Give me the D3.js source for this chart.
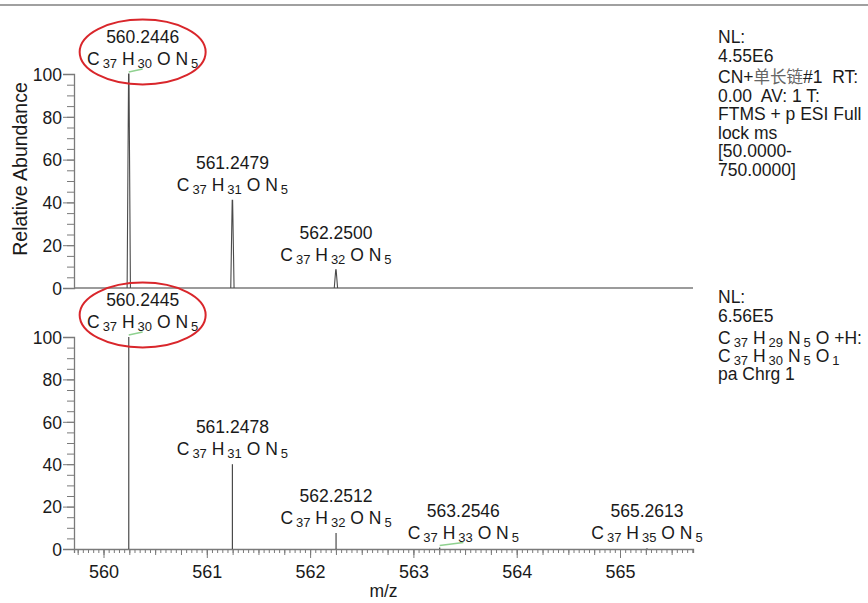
<!DOCTYPE html>
<html>
<head>
<meta charset="utf-8">
<script src="https://cdn.jsdelivr.net/npm/d3@7"></script>
<style>
  body { margin: 0; background: #fff; }
  text { font-family: "Liberation Sans", Arial, sans-serif; fill: #1a1a1a; white-space: pre; }
</style>
</head>
<body>
<script>
// values
var topMz = [560.2446, 561.2479, 562.2500];
var topAbund = [100, 41, 8.5];
var topFormula = ["C37 H30 O N5", "C37 H31 O N5", "C37 H32 O N5"];

var botMz = [560.2445, 561.2478, 562.2512, 563.2546, 565.2613];
var botAbund = [100, 40, 7.5, 0.7, 0.3];
var botFormula = ["C37 H30 O N5", "C37 H31 O N5", "C37 H32 O N5", "C37 H33 O N5", "C37 H35 O N5"];

var yTicks = [0, 20, 40, 60, 80, 100];
var xTicks = [560, 561, 562, 563, 564, 565];

var topInfo = ["NL:", "4.55E6", "CN+|单长链|#1  RT:", "0.00  AV: 1 T:", "FTMS + p ESI Full", "lock ms", "[50.0000-", "750.0000]"];
var botInfo = ["NL:", "6.56E5", "C37 H29 N5 O +H:", "C37 H30 N5 O1", "pa Chrg 1"];

var W = 868, H = 603;
var FONT = '"Liberation Sans", Arial, sans-serif';
var svg = d3.select("body").append("svg").attr("width", W).attr("height", H);

var x = d3.scaleLinear().domain([559.7144, 565.7066]).range([74, 693]);
var yTop = d3.scaleLinear().domain([0, 100]).range([288, 74]);
var yBot = d3.scaleLinear().domain([0, 100]).range([549, 337]);

var axisColor = "#7a7a7a";

// frame line at the very top
svg.append("line").attr("x1", 0).attr("x2", W).attr("y1", 5).attr("y2", 5)
  .attr("stroke", "#a0a0a0").attr("stroke-width", 2);

// write a chemical formula with subscripts into a text element
function formula(sel, str, big, small) {
  var shift = 0;
  str.split(" ").forEach(function(tok, i) {
    var m = tok.match(/^([^0-9]+)(\d*)$/);
    var main = sel.append("tspan").attr("font-size", big).text((i > 0 ? " " : "") + m[1]);
    if (shift) { main.attr("dy", -shift); shift = 0; }
    if (m[2]) {
      sel.append("tspan").attr("font-size", small).attr("dx", 3).attr("dy", 3).text(m[2]);
      shift = 3;
    }
  });
}

function drawY(y) {
  var g = svg.append("g").attr("transform", "translate(74,0)");
  g.call(d3.axisLeft(y).tickValues(d3.range(0, 101, 5)).tickSize(7).tickFormat(""));
  g.selectAll("line").attr("stroke", axisColor);
  g.select(".domain").remove();
  var g2 = svg.append("g").attr("transform", "translate(74,0)");
  g2.call(d3.axisLeft(y).tickValues(yTicks).tickSize(11).tickPadding(1));
  g2.select(".domain").attr("stroke", axisColor).attr("stroke-width", 1.3);
  g2.selectAll("line").attr("stroke", axisColor);
  g2.selectAll("text").attr("font-size", 17.5).attr("dy", "0.36em")
    .attr("font-family", FONT).attr("fill", "#1a1a1a");
}
drawY(yTop);
drawY(yBot);

// x baselines
svg.append("line").attr("x1", x.range()[0]).attr("x2", x.range()[1])
  .attr("y1", yTop(0)).attr("y2", yTop(0)).attr("stroke", axisColor).attr("stroke-width", 1.3);

var gx = svg.append("g").attr("transform", "translate(0," + yBot(0) + ")");
gx.call(d3.axisBottom(x).tickValues(d3.range(559.75, 565.71, 0.05)).tickSize(4).tickFormat(""));
gx.selectAll("line").attr("stroke", axisColor);
gx.select(".domain").attr("stroke", axisColor).attr("stroke-width", 1.3);
var gx2 = svg.append("g").attr("transform", "translate(0," + yBot(0) + ")");
gx2.call(d3.axisBottom(x).tickValues(d3.range(559.75, 565.71, 0.25)).tickSize(6).tickFormat(""));
gx2.selectAll("line").attr("stroke", axisColor);
gx2.select(".domain").remove();
var gx3 = svg.append("g").attr("transform", "translate(0," + yBot(0) + ")");
gx3.call(d3.axisBottom(x).tickValues(xTicks).tickSize(9).tickPadding(7).tickFormat(d3.format("d")));
gx3.selectAll("line").attr("stroke", axisColor);
gx3.select(".domain").remove();
gx3.selectAll("text").attr("font-size", 18).attr("font-family", FONT).attr("fill", "#1a1a1a");

// axis titles
svg.append("text").attr("transform", "translate(27,169) rotate(-90)")
  .attr("text-anchor", "middle").attr("font-size", 19.5).text("Relative Abundance");
svg.append("text").attr("x", (x.range()[0] + x.range()[1]) / 2).attr("y", 597)
  .attr("text-anchor", "middle").attr("font-size", 17.5).text("m/z");

// top: profile peaks
topMz.forEach(function(m, i) {
  var line = d3.line().x(function(d) { return x(d[0]); }).y(function(d) { return yTop(d[1]); });
  svg.append("path").attr("d", line([[m - 0.016, 0], [m - 0.002, topAbund[i]], [m + 0.002, topAbund[i]], [m + 0.016, 0]]))
    .attr("fill", "none").attr("stroke", "#4a4a4a").attr("stroke-width", 1.1);
});

// bottom: centroid sticks
svg.append("g").selectAll("line").data(botMz).join("line")
  .attr("x1", function(d) { return x(d); }).attr("x2", function(d) { return x(d); })
  .attr("y1", yBot(0)).attr("y2", function(d, i) { return yBot(botAbund[i]); })
  .attr("stroke", "#4a4a4a").attr("stroke-width", 1.2);

// peak labels, shifted sideways when crowded
function labels(mz, ab, forms, y) {
  var boxes = [];
  mz.forEach(function(m, i) {
    var px = x(m), top = y(ab[i]);
    var t1 = svg.append("text").attr("text-anchor", "middle").attr("y", top - 31).attr("font-size", 17.5).text(m.toFixed(4));
    var t2 = svg.append("text").attr("text-anchor", "middle").attr("y", top - 9);
    formula(t2, forms[i], 17.5, 13);
    var w = Math.max(t1.node().getBBox().width, t2.node().getBBox().width);
    var cx = Math.max(px, x.range()[0] + 13 + w / 2);
    boxes.forEach(function(b) {
      if (Math.abs(b.top - top) < 40 && cx - w / 2 < b.right + 16) cx = b.right + 16 + w / 2;
    });
    boxes.push({ top: top, right: cx + w / 2 });
    t1.attr("x", cx); t2.attr("x", cx);
    if (cx - px > 1) {
      svg.append("line").attr("x1", px).attr("y1", top - 2).attr("x2", cx).attr("y2", top - 5)
        .attr("stroke", "#8fd18f").attr("stroke-width", 1.3);
    }
    if (i === 0) {
      svg.append("ellipse").attr("cx", cx).attr("cy", top - 22).attr("rx", 63).attr("ry", 32.5)
        .attr("fill", "none").attr("stroke", "#d9262b").attr("stroke-width", 2);
    }
  });
}
labels(topMz, topAbund, topFormula, yTop);
labels(botMz, botAbund, botFormula, yBot);

// info text on the right
var tTop = [43, 62, 83, 101.5, 120, 138.5, 157, 175.5];
topInfo.forEach(function(s, i) {
  var t = svg.append("text").attr("x", 718).attr("y", tTop[i]).attr("font-size", 17.5);
  s.split("|").forEach(function(p, j) {
    var sp = t.append("tspan").text(p);
    if (j === 1) sp.attr("font-family", '"Noto Sans CJK SC", sans-serif').attr("font-size", 16.5).attr("fill", "#666");
  });
});
var tBot = [303, 322, 344, 362, 379.5];
botInfo.forEach(function(s, i) {
  var t = svg.append("text").attr("x", 718).attr("y", tBot[i]).attr("font-size", 17.5);
  if (s.indexOf("C37") === 0) formula(t, s, 17.5, 13);
  else t.text(s);
});
</script>
</body>
</html>
